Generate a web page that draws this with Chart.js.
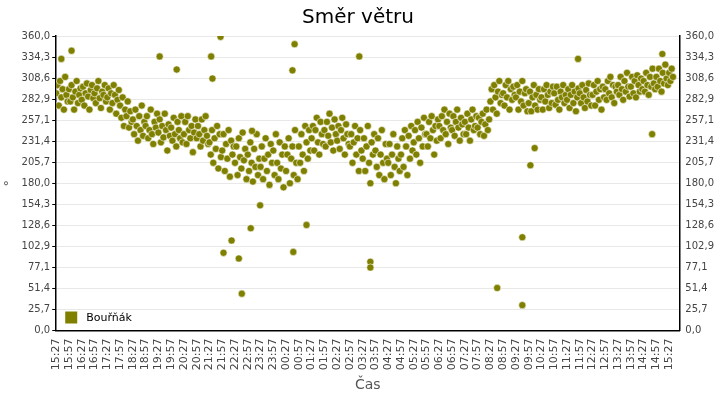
<!DOCTYPE html>
<html>
<head>
<meta charset="utf-8">
<script src="https://cdn.jsdelivr.net/npm/chart.js@4/dist/chart.umd.min.js"></script>
<style>
  html, body { margin: 0; padding: 0; background: #fff; }
  #wrap { width: 720px; height: 400px; }
</style>
</head>
<body>
<div id="wrap"><canvas id="windChart"></canvas></div>
<script>
// wind direction samples, one every 3 minutes starting 15:27
const mainValues = [
  290,300,275,305,285,295,270,310,288,280,
  295,280,300,285,270,292,305,278,288,296,
  282,298,275,290,302,286,270,294,300,284,
  290,278,296,305,284,272,292,288,300,280,
  285,296,270,290,278,300,288,265,282,294,
  275,260,285,250,270,262,280,248,268,255,
  258,240,270,250,232,262,245,275,238,255,
  250,262,235,245,270,240,228,255,248,265,
  242,258,230,250,236,265,245,220,252,238,
  248,232,260,240,225,255,245,235,262,230,
  240,255,228,262,245,235,250,218,242,258,
  235,250,240,225,258,232,245,262,238,228,
  230,215,245,205,235,222,250,198,240,212,
  220,240,195,228,210,245,188,232,215,225,
  205,225,190,235,212,198,242,208,222,185,
  215,195,230,205,182,222,200,240,190,210,
  200,225,185,210,235,195,215,178,228,205,
  220,190,240,205,185,230,198,215,175,225,
  195,215,235,180,210,225,190,245,205,185,
  225,205,240,215,195,250,230,210,245,220,
  235,250,220,245,260,230,215,255,240,228,
  245,225,255,238,265,230,248,220,258,240,
  232,250,222,245,260,235,215,252,240,228,
  225,240,205,230,250,215,235,195,245,220,
  210,235,195,225,250,205,180,230,215,240,
  220,200,235,190,215,245,205,185,228,210,
  205,228,190,215,240,200,180,225,210,195,
  215,235,200,245,225,190,238,210,250,220,
  230,245,215,255,235,205,248,225,260,240,
  240,225,255,235,262,245,215,250,232,258,
  250,235,262,245,270,240,255,228,265,248,
  245,262,238,255,270,248,232,260,252,240,
  255,240,265,248,232,258,270,245,250,262,
  248,260,240,255,265,238,252,270,245,258,
  280,295,270,300,285,265,292,305,278,288,
  290,275,300,285,305,270,295,282,298,288,
  285,300,270,292,280,305,275,290,295,268,
  278,292,268,285,300,275,288,270,295,282,
  285,270,295,280,300,288,272,292,278,298,
  290,276,298,282,270,292,285,300,278,288,
  282,295,272,288,300,278,292,268,285,296,
  290,278,300,285,272,294,280,302,288,275,
  288,300,275,292,305,282,295,270,298,285,
  295,282,305,290,310,285,300,278,298,292,
  300,288,310,295,282,305,292,315,298,286,
  298,310,290,305,285,312,300,292,308,295,
  305,292,315,300,288,310,298,320,302,295,
  310,298,320,305,292,315,302,325,308,300,
  315,305,320,310
];
// outlying readings (minutes after 15:27, degrees)
const outlierMinutes = [12, 36, 243, 283, 364, 386, 367, 460, 393, 412, 429, 436, 479, 457, 560, 555, 557, 588, 712, 738, 738, 1036, 1095, 1095, 1124, 1114, 1226, 1400, 1424];
const outlierValues  = [332, 342, 335, 319, 335, 359, 308, 244, 95, 110, 88, 45, 153, 125, 350, 318, 96, 129, 335, 84, 77, 52, 114, 31, 223, 202, 332, 240, 338];

const startMinutes = 15 * 60 + 27;
const sampleStep = 3;

function timeLabel(m) {
  const t = (startMinutes + m) % 1440;
  const h = Math.floor(t / 60), mm = t % 60;
  return String(h).padStart(2, "0") + ":" + String(mm).padStart(2, "0");
}
function degLabel(v) {
  return v.toFixed(1).replace(".", ",");
}

const points = mainValues.map((v, i) => ({ x: i * sampleStep, y: v }));
outlierMinutes.forEach((m, i) => points.push({ x: m, y: outlierValues[i] }));

const legendPlugin = {
  id: "innerLegend",
  afterDraw(chart) {
    const { ctx, chartArea } = chart;
    ctx.save();
    ctx.fillStyle = "#808000";
    ctx.fillRect(chartArea.left + 9, chartArea.bottom - 19, 12, 12);
    ctx.fillStyle = "#000";
    ctx.font = "11px 'DejaVu Sans'";
    ctx.textBaseline = "middle";
    ctx.fillText("Bouřňák", chartArea.left + 30, chartArea.bottom - 12);
    ctx.restore();
  }
};

const yTicks = {
  stepSize: 360 / 14,
  color: "#444",
  padding: 2,
  font: { family: "DejaVu Sans", size: 10 },
  callback: v => degLabel(v)
};

new Chart(document.getElementById("windChart"), {
  type: "scatter",
  data: {
    datasets: [{
      label: "Bouřňák",
      data: points,
      backgroundColor: "#808000",
      borderColor: "rgba(255,255,255,0.7)",
      borderWidth: 0.8,
      pointRadius: 3.6,
      pointHoverRadius: 3.6
    }]
  },
  options: {
    responsive: true,
    maintainAspectRatio: false,
    animation: false,
    layout: { padding: { left: 0, right: 4, top: 2, bottom: 6 } },
    scales: {
      x: {
        type: "linear",
        min: 0,
        max: 1464,
        afterBuildTicks: s => {
          const t = [];
          for (let m = 0; m <= 1440; m += 30) t.push({ value: m });
          s.ticks = t;
        },
        ticks: {
          autoSkip: false,
          maxRotation: 90,
          minRotation: 90,
          color: "#444",
          padding: 3,
          font: { family: "DejaVu Sans", size: 11 },
          callback: v => timeLabel(v)
        },
        grid: { display: false, drawTicks: true, tickLength: 5, tickColor: "#000" },
        border: { color: "#000", width: 1.5 },
        title: { display: true, text: "Čas", color: "#555", font: { family: "DejaVu Sans", size: 14 }, padding: { top: 4, bottom: 0 } }
      },
      y: {
        min: 0,
        max: 360,
        ticks: yTicks,
        grid: { color: "#e8e8e8", tickLength: 4, tickColor: "#000" },
        border: { color: "#000", width: 1.5 },
        title: { display: true, text: "°", color: "#555", font: { family: "DejaVu Sans", size: 13 }, padding: 2 }
      },
      y2: {
        position: "right",
        min: 0,
        max: 360,
        ticks: yTicks,
        grid: { display: false, tickLength: 4, tickColor: "#000" },
        border: { color: "#000", width: 1.5 }
      }
    },
    plugins: {
      legend: { display: false },
      tooltip: { enabled: false },
      title: {
        display: true,
        text: "Směr větru",
        color: "#000",
        font: { family: "DejaVu Sans", size: 20, weight: "normal" },
        padding: { top: 4, bottom: 6 }
      }
    }
  },
  plugins: [legendPlugin]
});
</script>
</body>
</html>
